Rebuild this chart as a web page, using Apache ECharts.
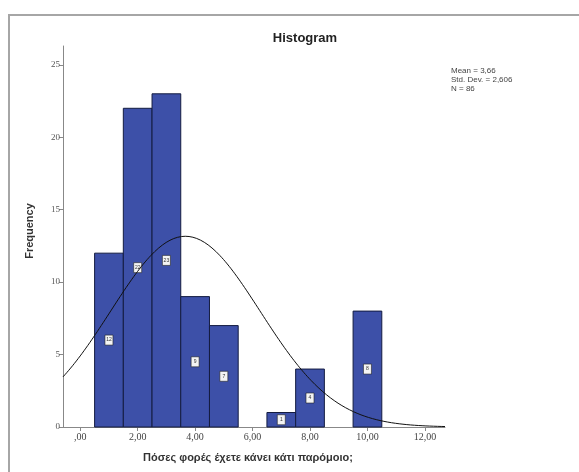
<!DOCTYPE html>
<html><head><meta charset="utf-8">
<script src="https://cdn.jsdelivr.net/npm/echarts@6/dist/echarts.min.js"></script>
<style>html,body{margin:0;padding:0;background:#fff}#c{width:579px;height:472px}</style>
</head><body><div id="c"></div>
<script>
// Histogram bins (bin start, bin end) and frequencies
const binStart = [0.5, 1.5, 2.5, 3.5, 4.5, 6.5, 7.5, 9.5];
const binEnd   = [1.5, 2.5, 3.5, 4.5, 5.5, 7.5, 8.5, 10.5];
const counts   = [12, 22, 23, 9, 7, 1, 4, 8];
const xTicks = [0, 2, 4, 6, 8, 10, 12];
const xTickLabels = [',00', '2,00', '4,00', '6,00', '8,00', '10,00', '12,00'];
const yTicks = [0, 5, 10, 15, 20, 25];
const statsMean = 3.66, statsSd = 2.606, statsN = 86;
const statsLines = ['Mean = 3,66', 'Std. Dev. = 2,606', 'N = 86'];

// Fitted normal curve (from the stated mean, sd, N, bin width 1)
const curve = [];
for (let i = 0; i <= 200; i++) {
  const x = -0.6 + (13.3 * i) / 200;
  const z = (x - statsMean) / statsSd;
  curve.push([x, statsN * Math.exp(-0.5 * z * z) / (statsSd * Math.sqrt(2 * Math.PI))]);
}

const chart = echarts.init(document.getElementById('c'));
const serif = 'Liberation Serif';
chart.setOption({
  animation: false,
  backgroundColor: '#fff',
  title: {
    text: 'Histogram', left: 300, top: 27, textAlign: 'center',
    textStyle: { fontFamily: 'Liberation Sans', fontSize: 13, fontWeight: 'bold', color: '#222' }
  },
  graphic: [
    { type: 'rect', shape: { x: 9, y: 15, width: 600, height: 500 },
      style: { fill: 'none', stroke: '#a6a6a6', lineWidth: 2 }, silent: true },
    { type: 'text', left: 451, top: 66,
      style: { text: statsLines.join('\n'), fontFamily: 'Liberation Sans', fontSize: 8, lineHeight: 9, fill: '#444' } },
    { type: 'text', x: 30, y: 231, rotation: Math.PI / 2,
      style: { text: 'Frequency', fontFamily: 'Liberation Sans', fontSize: 11, fontWeight: 'bold', fill: '#333',
               align: 'center', verticalAlign: 'middle' } }
  ],
  grid: { left: 63, right: 134, top: 46, bottom: 45 },
  xAxis: {
    type: 'value', min: -0.6, max: 12.7,
    name: 'Πόσες φορές έχετε κάνει κάτι παρόμοιο;', nameLocation: 'middle', nameGap: 25,
    nameTextStyle: { fontFamily: 'Liberation Sans', fontSize: 11, fontWeight: 'bold', color: '#333', padding: [0, 0, 0, -12] },
    axisLine: { lineStyle: { color: '#888', width: 1 } },
    axisTick: { customValues: xTicks, length: 4, lineStyle: { color: '#888' } },
    axisLabel: {
      customValues: xTicks, fontFamily: serif, fontSize: 10, color: '#444', margin: 5,
      formatter: v => xTickLabels[xTicks.indexOf(Math.round(v))] || ''
    },
    splitLine: { show: false }
  },
  yAxis: {
    type: 'value', min: 0, max: 26.3,
    axisLine: { show: true, onZero: false, lineStyle: { color: '#888', width: 1 } },
    axisTick: { show: true, customValues: yTicks, length: 4, lineStyle: { color: '#888' } },
    axisLabel: { customValues: yTicks, fontFamily: serif, fontSize: 9, color: '#555', margin: 3 },
    splitLine: { show: false }
  },
  series: [
    {
      type: 'custom',
      data: counts.map((c, i) => [binStart[i], binEnd[i], c]),
      renderItem: (params, api) => {
        const p0 = api.coord([api.value(0), 0]);
        const p1 = api.coord([api.value(1), api.value(2)]);
        const pm = api.coord([(api.value(0) + api.value(1)) / 2, api.value(2) / 2]);
        return {
          type: 'group',
          children: [
            { type: 'rect', shape: { x: p0[0], y: p1[1], width: p1[0] - p0[0], height: p0[1] - p1[1] },
              style: { fill: '#3d50a8', stroke: '#141c40', lineWidth: 1 } },
            { type: 'rect', shape: { x: pm[0] - 4, y: pm[1] - 5, width: 8, height: 10 },
              style: { fill: '#f4f4f4', stroke: '#222', lineWidth: 0.6 } },
            { type: 'text', x: pm[0], y: pm[1],
              style: { text: String(api.value(2)), fontSize: 5, fill: '#333', align: 'center', verticalAlign: 'middle' } }
          ]
        };
      },
      z: 2
    },
    {
      type: 'line', data: curve, showSymbol: false, smooth: false,
      lineStyle: { color: '#111', width: 1 }, z: 3
    }
  ]
});
</script></body></html>
